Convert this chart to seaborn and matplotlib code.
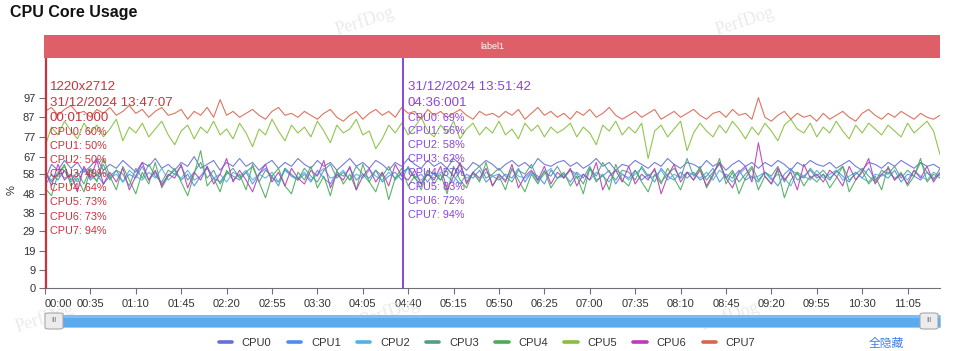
import numpy as np
import pandas as pd
import matplotlib
matplotlib.use("Agg")
import matplotlib.pyplot as plt
import seaborn as sns
from matplotlib.patches import Rectangle, FancyBboxPatch
from matplotlib.lines import Line2D

sns.set_theme(style="white")
plt.rcParams["font.family"] = ["Liberation Sans", "Noto Sans CJK SC", "DejaVu Sans"]

# ---------------- data ----------------
STEP = 5  # seconds between samples
cores = ["CPU0", "CPU1", "CPU2", "CPU3", "CPU4", "CPU5", "CPU6", "CPU7"]
colors = ["#6470d6", "#4d8df0", "#4fb2e6", "#4f9f86", "#4cab58", "#86bf3c", "#b83cb8", "#da654f"]

cpu0 = [55, 63, 60, 65, 61, 64, 59, 62, 66, 60,
        63, 61, 65, 62, 59, 64, 62, 66, 61, 63,
        60, 64, 62, 67, 61, 63, 65, 60, 64, 62,
        66, 62, 64, 60, 63, 65, 61, 64, 62, 66,
        63, 61, 65, 62, 64, 60, 63, 66, 62, 64,
        61, 65, 63, 60, 64, 62, 66, 63, 61, 65,
        62, 64, 61, 66, 63, 60, 64, 62, 65, 63,
        60, 63, 65, 62, 64, 61, 66, 63, 62, 64,
        65, 62, 64, 61, 63, 66, 62, 64, 60, 63,
        62, 65, 63, 61, 64, 62, 66, 63, 61, 64,
        63, 61, 65, 62, 64, 60, 63, 65, 62, 64,
        61, 64, 62, 65, 63, 60, 64, 62, 65, 63,
        62, 64, 61, 63, 65, 62, 60, 64, 63, 61,
        64, 62, 65, 63, 61, 64, 62, 63, 61]
cpu1 = [52, 58, 55, 60, 54, 57, 61, 55, 58, 53,
        57, 60, 54, 58, 56, 62, 55, 59, 53, 57,
        60, 55, 58, 52, 57, 61, 56, 54, 59, 57,
        55, 59, 53, 58, 61, 56, 54, 60, 57, 55,
        58, 54, 60, 56, 53, 59, 57, 61, 55, 58,
        56, 60, 54, 57, 59, 55, 62, 56, 58, 54,
        59, 55, 61, 57, 53, 58, 56, 60, 54, 57,
        55, 58, 56, 61, 54, 59, 57, 53, 60, 56,
        58, 54, 59, 56, 62, 55, 57, 60, 53, 58,
        56, 60, 55, 58, 54, 61, 57, 55, 59, 56,
        59, 55, 57, 61, 54, 58, 56, 60, 55, 57,
        54, 59, 56, 52, 58, 61, 55, 57, 60, 56,
        58, 55, 60, 57, 54, 59, 56, 61, 55, 58,
        56, 60, 54, 58, 57, 55, 59, 56, 58]
cpu2 = [57, 55, 59, 56, 58, 54, 60, 57, 55, 59,
        56, 58, 54, 60, 57, 55, 59, 56, 61, 55,
        58, 56, 60, 55, 57, 62, 56, 58, 54, 59,
        57, 60, 55, 58, 56, 59, 54, 61, 57, 56,
        59, 55, 58, 61, 56, 57, 60, 55, 58, 56,
        60, 57, 55, 59, 56, 58, 61, 57, 55, 58,
        56, 59, 57, 54, 60, 56, 58, 55, 59, 57,
        58, 55, 60, 57, 56, 59, 54, 58, 61, 56,
        57, 60, 56, 58, 55, 59, 57, 54, 60, 58,
        55, 58, 61, 56, 57, 60, 55, 58, 56, 59,
        58, 56, 59, 55, 60, 57, 54, 58, 61, 56,
        57, 59, 55, 58, 56, 52, 59, 57, 55, 60,
        56, 58, 60, 55, 57, 59, 56, 54, 58, 57,
        59, 56, 58, 55, 60, 57, 55, 59, 57]
cpu3 = [60, 54, 58, 62, 55, 59, 53, 61, 57, 63,
        55, 60, 58, 52, 61, 56, 63, 57, 54, 60,
        58, 62, 55, 59, 64, 56, 60, 53, 58, 61,
        56, 59, 62, 54, 60, 57, 52, 61, 58, 55,
        61, 57, 54, 60, 63, 56, 59, 55, 62, 58,
        54, 60, 57, 62, 55, 59, 61, 56, 53, 60,
        58, 55, 61, 57, 63, 54, 59, 62, 56, 58,
        61, 57, 54, 60, 58, 63, 55, 59, 57, 62,
        56, 60, 58, 53, 61, 57, 64, 59, 55, 60,
        59, 55, 62, 57, 60, 54, 58, 61, 56, 66,
        57, 61, 55, 59, 63, 56, 60, 54, 58, 62,
        55, 59, 57, 62, 54, 60, 58, 56, 61, 57,
        60, 56, 59, 62, 55, 58, 61, 57, 54, 60,
        58, 62, 56, 60, 57, 64, 59, 55, 61]
cpu4 = [51, 47, 58, 63, 52, 56, 49, 60, 54, 66,
        57, 50, 62, 55, 48, 59, 53, 64, 51, 57,
        61, 54, 47, 58, 70, 52, 56, 49, 60, 55,
        58, 50, 63, 54, 46, 57, 61, 52, 48, 59,
        55, 62, 51, 57, 47, 60, 53, 58, 50, 63,
        54, 49, 59, 45, 56, 61, 52, 57, 50, 60,
        53, 58, 48, 62, 55, 51, 59, 54, 64, 52,
        57, 50, 61, 55, 49, 58, 53, 60, 51, 56,
        59, 52, 57, 48, 61, 54, 58, 50, 63, 55,
        52, 60, 54, 49, 58, 53, 61, 56, 50, 59,
        55, 62, 51, 57, 66, 53, 59, 48, 56, 61,
        50, 57, 53, 60, 46, 55, 59, 52, 57, 54,
        58, 51, 56, 62, 49, 55, 60, 53, 57, 50,
        62, 55, 59, 52, 57, 66, 54, 58, 56]
cpu5 = [72, 82, 78, 85, 80, 76, 84, 79, 83, 77,
        81, 86, 75, 82, 79, 84, 77, 81, 85, 78,
        73, 80, 83, 76, 82, 79, 85, 78, 81, 76,
        84, 79, 72, 81, 78, 86, 80, 75, 83, 79,
        82, 77, 85, 80, 74, 83, 79, 81, 86, 78,
        80, 71, 76, 83, 79, 84, 78, 82, 87, 80,
        77, 83, 79, 85, 76, 81, 84, 78, 82, 79,
        85, 78, 81, 76, 84, 80, 83, 77, 82, 79,
        81, 84, 77, 82, 79, 73, 83, 80, 85, 78,
        82, 79, 84, 66, 80, 83, 77, 81, 85, 70,
        79, 84, 80, 77, 83, 79, 85, 81, 76, 82,
        78, 84, 80, 75, 83, 86, 81, 79, 84, 77,
        82, 79, 85, 80, 76, 83, 79, 84, 81, 78,
        83, 80, 77, 84, 79, 82, 85, 80, 68]
cpu6 = [60, 52, 63, 55, 58, 49, 62, 56, 65, 53,
        59, 54, 61, 50, 57, 64, 55, 60, 52, 58,
        56, 63, 51, 59, 55, 62, 53, 58, 66, 54,
        60, 55, 49, 58, 63, 54, 59, 52, 61, 56,
        53, 60, 57, 65, 51, 58, 55, 62, 50, 57,
        61, 54, 59, 52, 63, 57, 55, 60, 53, 58,
        55, 62, 50, 57, 64, 53, 59, 56, 61, 52,
        58, 54, 63, 51, 57, 60, 55, 62, 53, 59,
        56, 61, 52, 58, 55, 64, 50, 57, 60, 54,
        62, 53, 58, 55, 61, 48, 57, 63, 54, 59,
        55, 60, 52, 58, 64, 56, 51, 59, 62, 54,
        74, 57, 53, 61, 55, 59, 50, 63, 56, 58,
        54, 60, 57, 52, 62, 55, 59, 66, 53, 58,
        61, 55, 58, 53, 60, 56, 62, 54, 59]
cpu7 = [90, 92, 88, 91, 93, 89, 90, 87, 91, 89,
        92, 88, 90, 93, 89, 91, 87, 90, 92, 88,
        89, 91, 86, 90, 88, 92, 87, 96, 88, 90,
        87, 89, 91, 88, 86, 90, 92, 88, 89, 87,
        90, 88, 86, 89, 91, 87, 85, 88, 90, 86,
        89, 91, 88, 90, 87, 92, 89, 90, 86, 91,
        88, 90, 87, 89, 91, 88, 86, 90, 88, 89,
        87, 90, 88, 91, 86, 89, 92, 88, 90, 87,
        89, 86, 90, 88, 91, 87, 89, 92, 88, 86,
        88, 90, 87, 89, 91, 86, 88, 90, 87, 89,
        91, 88, 86, 89, 90, 87, 91, 88, 89, 86,
        97, 87, 85, 88, 90, 86, 89, 87, 88, 85,
        89, 86, 88, 90, 87, 85, 89, 91, 88, 86,
        89, 87, 90, 88, 86, 89, 87, 86, 88]
series = [cpu0, cpu1, cpu2, cpu3, cpu4, cpu5, cpu6, cpu7]

y_ticks = [0, 9, 19, 29, 38, 48, 58, 67, 77, 87, 97]
x_ticks = list(range(0, 666, 35))
x_labels = ["%02d:%02d" % (s // 60, s % 60) for s in x_ticks]

marker_a_t = 1
marker_a_lines = ["1220x2712", "31/12/2024 13:47:07", "00:01:000"]
marker_a_vals = [60, 50, 50, 49, 64, 73, 73, 94]
marker_b_t = 276
marker_b_lines = ["31/12/2024 13:51:42", "04:36:001"]
marker_b_vals = [69, 56, 58, 62, 57, 83, 72, 94]

frames = []
for name, vals in zip(cores, series):
    frames.append(pd.DataFrame({"t": np.arange(len(vals)) * STEP, "value": vals, "core": name}))
df = pd.concat(frames, ignore_index=True)

# ---------------- figure ----------------
W, H = 960, 351
fig = plt.figure(figsize=(W / 100, H / 100), dpi=100)
fig.patch.set_facecolor("white")


def fx(px):
    return px / W


def fy(py):
    return 1 - py / H


# watermarks (behind everything)
for (px, py) in [(365, 21), (745, 21), (45, 318), (390, 312), (730, 316)]:
    fig.text(fx(px), fy(py), "PerfDog", fontsize=13, color="#dddddd", alpha=0.6,
             rotation=18, ha="center", va="center", family=["Liberation Serif"], zorder=0)

ax = fig.add_axes([fx(45), fy(288), fx(940) - fx(45), fy(79) - fy(288)])
ax.patch.set_alpha(0)
sns.lineplot(data=df, x="t", y="value", hue="core", hue_order=cores,
             palette=dict(zip(cores, colors)), linewidth=0.8, alpha=0.9,
             estimator=None, ax=ax, legend=False)
ax.set_xlim(0, 690)
ax.set_ylim(0, 106.5)
ax.set_yticks(y_ticks)
ax.set_yticklabels([str(v) for v in y_ticks])
ax.set_xticks(x_ticks)
ax.set_xticklabels(x_labels)
ax.get_xticklabels()[0].set_horizontalalignment("left")
ax.set_xlabel("")
ax.set_ylabel("")
ax.tick_params(axis="both", which="both", length=4, width=0.8, color="#6e7079",
               labelsize=8, labelcolor="#333333", pad=3)
ax.tick_params(axis="x", bottom=True, pad=4)
ax.tick_params(axis="y", left=True)
for s in ["top", "right"]:
    ax.spines[s].set_visible(False)
for s in ["left", "bottom"]:
    ax.spines[s].set_color("#6e7079")
    ax.spines[s].set_linewidth(0.8)

# vertical markers
ax.axvline(marker_a_t, ymin=0, ymax=(288 - 58) / (288 - 79), color="#c8343e", lw=1.6, clip_on=False, zorder=5)
ax.axvline(marker_b_t, ymin=0, ymax=(288 - 58) / (288 - 79), color="#8a45dc", lw=1.4, clip_on=False, zorder=5)

# marker annotations
red = "#c8343e"
purple = "#8a45dc"
ya = [87, 102.5, 117.5]
for txt, y in zip(marker_a_lines, ya):
    fig.text(fx(50), fy(y), txt, color=red, fontsize=9.6, va="center", ha="left", zorder=10)
for i, (c, v) in enumerate(zip(cores, marker_a_vals)):
    fig.text(fx(50), fy(132 + i * 14.1), f"{c}: {v}%", color=red, fontsize=7.8, va="center", ha="left", zorder=10)
yb = [86.5, 102.5]
for txt, y in zip(marker_b_lines, yb):
    fig.text(fx(408), fy(y), txt, color=purple, fontsize=9.6, va="center", ha="left", zorder=10)
for i, (c, v) in enumerate(zip(cores, marker_b_vals)):
    fig.text(fx(408), fy(117.5 + i * 13.95), f"{c}: {v}%", color=purple, fontsize=7.8, va="center", ha="left", zorder=10)

# label band
band = fig.add_axes([fx(44), fy(58), fx(940) - fx(44), (58 - 35) / H])
band.set_facecolor("#df5f68")
band.set_xticks([])
band.set_yticks([])
for s in band.spines.values():
    s.set_visible(False)
band.text(0.5, 0.5, "label1", color="white", fontsize=6.5, ha="center", va="center", transform=band.transAxes)

# title and y label
fig.text(fx(10), fy(13), "CPU Core Usage", fontsize=11.5, fontweight="bold", color="#111111", va="center", ha="left")
fig.text(fx(12), fy(190), "%", fontsize=8, color="#333333", rotation=90, va="center", ha="center")

# slider
fig.patches.append(Rectangle((fx(45), fy(327)), fx(940) - fx(45), (327 - 315) / H,
                             transform=fig.transFigure, facecolor="#5aaaf0", edgecolor="#9cc8ef", lw=0.6))
fig.patches.append(Rectangle((fx(45), fy(318)), fx(940) - fx(45), 3 / H,
                             transform=fig.transFigure, facecolor="#7dbdf5", edgecolor="none"))
for x0 in (45, 920):
    fig.patches.append(FancyBboxPatch((fx(x0), fy(329)), 18 / W, 16 / H,
                                      boxstyle="round,pad=0,rounding_size=0.004",
                                      transform=fig.transFigure, facecolor="#ececec",
                                      edgecolor="#a8a8a8", lw=0.8))
    fig.text(fx(x0 + 9), fy(321), "III", fontsize=5, color="#777777", ha="center", va="center")

# legend
handles = [Line2D([0], [0], color=c, lw=2.6) for c in colors]
fig.legend(handles, cores, ncol=8, loc="center", bbox_to_anchor=(fx(487), fy(343)),
           frameon=False, fontsize=8, handlelength=1.2, handletextpad=0.9,
           columnspacing=1.45, labelcolor="#333333")
fig.text(fx(886), fy(343), "全隐藏", fontsize=8.5, color="#3f7fe8", ha="center", va="center",
         family=["Noto Sans CJK SC", "DejaVu Sans"])

fig.savefig("out.png", dpi=100)
